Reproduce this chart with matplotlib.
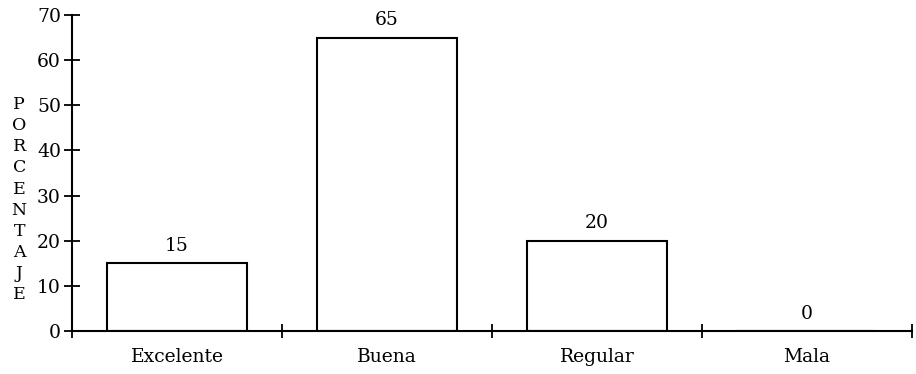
import matplotlib
matplotlib.use("Agg")
from matplotlib import pyplot as plt
import numpy as np

categories = ['Excelente', 'Buena', 'Regular', 'Mala']
values = [15, 65, 20, 0]
y_ticks = [0, 10, 20, 30, 40, 50, 60, 70]
y_title = 'PORCENTAJE'

plt.rcParams['font.family'] = ['DejaVu Serif']
FS = 13.5

fig = plt.figure(figsize=(9.16, 3.74), dpi=100)
ax = fig.add_axes([0.0786, 0.115, 0.917, 0.845])

x = np.arange(len(categories))
bars = ax.bar(x, values, width=0.67, color='white', edgecolor='black', linewidth=1.5)
for xi, v in zip(x, values):
    ax.annotate(str(v), (xi, v), xytext=(0, 6), textcoords='offset points',
                ha='center', va='bottom', fontsize=FS)

ax.set_xlim(-0.5, len(categories) - 0.5)
ax.set_ylim(0, 70)

# category labels sit between the cross ticks on the boundaries
ax.set_xticks(x)
ax.set_xticklabels(categories, fontsize=FS)
ax.set_xticks(np.arange(-0.5, len(categories)), minor=True)
ax.tick_params(axis='x', which='major', length=0, pad=12)
ax.tick_params(axis='x', which='minor', direction='inout', length=10, width=1.3)

ax.set_yticks(y_ticks)
ax.set_yticklabels([str(t) for t in y_ticks], fontsize=FS)
ax.tick_params(axis='y', direction='inout', length=12, width=1.3, pad=2)

for side in ['top', 'right']:
    ax.spines[side].set_visible(False)
for side in ['left', 'bottom']:
    ax.spines[side].set_linewidth(1.5)

# vertical title, one letter per line
fig.text(0.021, 0.466, '\n'.join(y_title), ha='center', va='center',
         fontsize=FS - 1, linespacing=1.32)

fig.savefig('out.png', dpi=100)
